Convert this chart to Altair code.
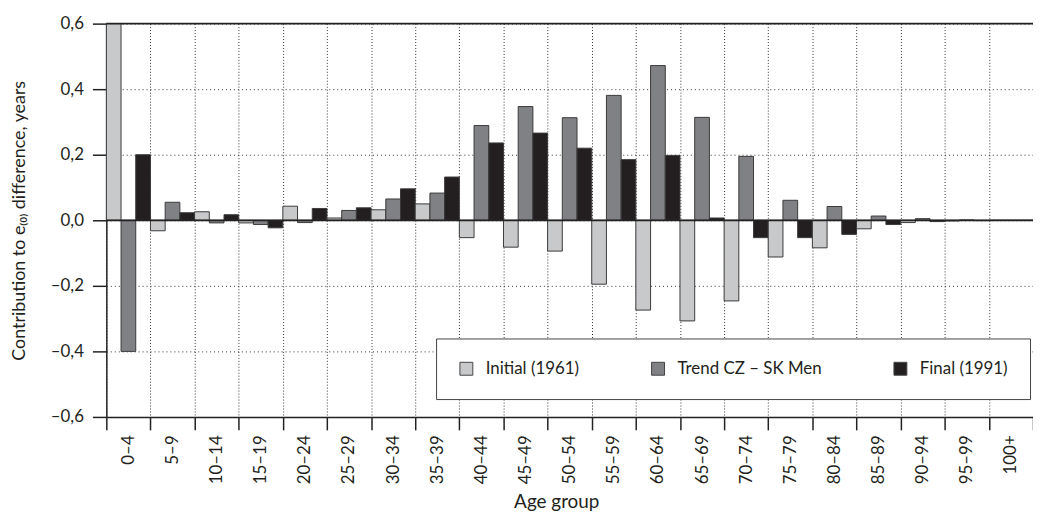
import altair as alt
import pandas as pd

ages = ["0–4", "5–9", "10–14", "15–19", "20–24", "25–29", "30–34", "35–39",
        "40–44", "45–49", "50–54", "55–59", "60–64", "65–69", "70–74", "75–79",
        "80–84", "85–89", "90–94", "95–99", "100+"]
series = ["Initial (1961)", "Trend CZ – SK Men", "Final (1991)"]
initial = [0.600, -0.032, 0.026, -0.008, 0.043, 0.007, 0.032, 0.050, -0.053, -0.082,
           -0.094, -0.195, -0.274, -0.307, -0.246, -0.112, -0.084, -0.026, -0.007, -0.002, 0.000]
trend = [-0.400, 0.055, -0.008, -0.013, -0.007, 0.030, 0.065, 0.083, 0.289, 0.347,
         0.313, 0.381, 0.472, 0.314, 0.195, 0.061, 0.042, 0.013, 0.005, 0.001, 0.000]
final = [0.200, 0.023, 0.017, -0.023, 0.036, 0.038, 0.096, 0.132, 0.236, 0.266,
         0.220, 0.185, 0.198, 0.007, -0.053, -0.053, -0.043, -0.013, -0.004, -0.001, 0.000]
colors = ["#c8c9cb", "#808185", "#231f20"]
y_ticks = [-0.6, -0.4, -0.2, 0.0, 0.2, 0.4, 0.6]
ref_lines = [0.0, 0.6]

rows = []
for i, a in enumerate(ages):
    for s, vals in zip(series, [initial, trend, final]):
        rows.append({"age": a, "series": s, "value": vals[i]})
df = pd.DataFrame(rows)

label_expr = "(datum.value < -0.0001 ? '–' : '') + replace(format(abs(datum.value), '.1f'), '.', ',')"
TXT = "#231f20"

bars = alt.Chart(df).mark_bar(stroke="#3a3a3a", strokeWidth=1).encode(
    x=alt.X("age:N", sort=ages,
            scale=alt.Scale(paddingInner=0, paddingOuter=0),
            axis=alt.Axis(title="Age group", labelAngle=-90, tickBand="extent",
                          tickSize=13, labelPadding=5, labelFontSize=17,
                          grid=True, gridDash=[1, 2], gridColor="#333", gridWidth=1,
                          domainColor="#222", domainWidth=1.5, tickColor="#222", tickWidth=1.5,
                          titleFontSize=19, titleX=453, titleY=91,
                          titleBaseline="alphabetic", titleAlign="center")),
    xOffset=alt.XOffset("series:N", sort=series,
                        scale=alt.Scale(paddingInner=0, paddingOuter=0)),
    y=alt.Y("value:Q", scale=alt.Scale(domain=[-0.6, 0.6], nice=False),
            axis=alt.Axis(values=y_ticks, labelExpr=label_expr,
                          title="Contribution to e₍₀₎ difference, years",
                          tickSize=14, labelPadding=9, labelFontSize=17,
                          grid=True, gridDash=[1, 3], gridColor="#333", gridWidth=1,
                          domainColor="#222", domainWidth=1.5, tickColor="#222", tickWidth=1.5,
                          titleFontSize=18, titleX=-87, titleY=198,
                          titleBaseline="middle", titleAlign="center")),
    color=alt.Color("series:N", sort=series,
                    scale=alt.Scale(domain=series, range=colors),
                    legend=alt.Legend(title=None, orient="none", legendX=332, legendY=317,
                                      direction="horizontal", strokeColor="#444",
                                      fillColor="white", padding=22, columnPadding=70,
                                      symbolType="square", symbolSize=169,
                                      symbolStrokeColor="#444", symbolStrokeWidth=1,
                                      labelFontSize=17, labelOffset=11, labelColor=TXT)),
)

rules = alt.Chart(pd.DataFrame({"value": ref_lines})).mark_rule(color="#222", strokeWidth=1.8).encode(
    y=alt.Y("value:Q")
)

chart = alt.layer(bars, rules).properties(
    width=933, height=396,
    padding={"left": 99, "top": 14, "right": 0, "bottom": 97},
    autosize=alt.AutoSizeParams(type="none"),
).configure(font="Lato").configure_axis(
    labelColor=TXT, titleColor=TXT, titleFontWeight="normal", labelFont="Lato", titleFont="Lato"
).configure_view(stroke=None).configure_legend(labelFont="Lato")

chart.save("out.html", embed_options={"renderer": "svg", "actions": False})
